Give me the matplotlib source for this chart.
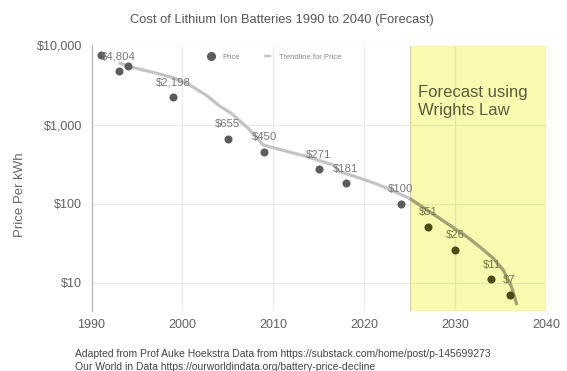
import matplotlib
matplotlib.use("Agg")
import matplotlib.pyplot as plt
from matplotlib.patches import Rectangle
from matplotlib.lines import Line2D

plt.rcParams['font.family'] = ['Liberation Sans', 'DejaVu Sans']

# ---- data ----
years = [1991, 1993, 1994, 1999, 2005, 2009, 2015, 2018, 2024, 2027, 2030, 2034, 2036]
prices = [7523, 4804, 5500, 2198, 655, 450, 271, 181, 100, 51, 26, 11, 7]
labels = [None, "$4,804", None, "$2,198", "$655", "$450", "$271", "$181", "$100", "$51", "$26", "$11", "$7"]

trend_years = [1993.0, 1994.2, 1997.2, 1999.0, 2000.6, 2002.6, 2004.1, 2005.4, 2007.2, 2008.9,
               2010.3, 2013.5, 2016.6, 2017.3, 2019.2, 2021.7, 2025.0, 2027.2, 2029.1, 2031.3,
               2032.7, 2034.2, 2035.3, 2036.2, 2036.8]
trend_values = [6057, 5389, 4446, 3902, 3255, 2362, 1715, 1378, 903, 550,
                497, 399, 307, 253, 216, 171, 116, 78.7, 56.2, 38,
                28.4, 20.2, 14.4, 8.85, 5.19]

forecast_start = 2025
x_ticks = [1990, 2000, 2010, 2020, 2030, 2040]
y_ticks = [10, 100, 1000, 10000]
y_ticklabels = ["$10", "$100", "$1,000", "$10,000"]

# ---- figure ----
W, H = 567, 371
fig = plt.figure(figsize=(W / 100, H / 100), dpi=100)
ax = fig.add_axes([91.5 / W, 1 - 311 / H, (546 - 91.5) / W, (311 - 45.5) / H])
ax.set_yscale('log')
ax.set_xlim(1990, 2040)
ax.set_ylim(4.36, 10000)

# grid
for t in x_ticks[1:-1]:
    ax.axvline(t, color='#ebebeb', lw=0.9, zorder=0)
for t in y_ticks:
    ax.axhline(t, color='#ebebeb', lw=0.9, zorder=0)

for s in ['top', 'right', 'bottom']:
    ax.spines[s].set_visible(False)
ax.spines['left'].set_color('#b5b5b5')
ax.spines['left'].set_linewidth(0.9)

ax.set_xticks(x_ticks)
ax.set_xticklabels([str(t) for t in x_ticks])
ax.set_yticks(y_ticks)
ax.set_yticklabels(y_ticklabels)
ax.minorticks_off()
ax.tick_params(axis='both', length=0, labelsize=9, labelcolor='#606060')
ax.tick_params(axis='x', pad=6)
ax.tick_params(axis='y', pad=7)

# forecast box
rect = Rectangle((forecast_start, 4.36), 2040 - forecast_start, 10000 - 4.36,
                 facecolor='#f9fab0', edgecolor='#d6d6a4', lw=0.9, zorder=1)
ax.add_patch(rect)
ax.plot([2030, 2030], [4.36, 10000], color='#e4e5a2', lw=0.9, zorder=1.1)
for t in [10, 100, 1000]:
    ax.plot([forecast_start, 2040], [t, t], color='#e6e7a4', lw=0.9, zorder=1.1)

# trendline (split at forecast start)
ty1 = [y for y in trend_years if y <= forecast_start]
tv1 = trend_values[:len(ty1)]
ty2 = [y for y in trend_years if y >= forecast_start]
tv2 = trend_values[len(trend_years) - len(ty2):]
ax.plot(ty1, tv1, color='#c4c4c4', lw=2.3, solid_capstyle='butt', zorder=2)
ax.plot(ty2, tv2, color='#a3a274', lw=2.3, solid_capstyle='butt', zorder=2)

# points
for yr, p, lab in zip(years, prices, labels):
    fc = '#4b4b16' if yr >= forecast_start else '#5c5c5c'
    tc = '#78784a' if yr >= forecast_start else '#777777'
    ax.plot([yr], [p], 'o', ms=5.8, color=fc, mec='none', zorder=3)
    if lab:
        ax.annotate(lab, (yr, p), xytext=(0, 10.5), textcoords='offset points',
                    ha='center', va='center', fontsize=8.2, color=tc, zorder=4)

ax.text(2025.9, 1945, "Forecast using\nWrights Law", ha='left', va='center',
        fontsize=12, color='#5a5a3c', linespacing=1.2, zorder=4)

# legend
handles = [Line2D([], [], marker='o', ls='none', color='#5c5c5c', ms=5.5),
           Line2D([], [], color='#c4c4c4', lw=1.6)]
ax.legend(handles, ["Price", "Trendline for Price"], loc='center left',
          bbox_to_anchor=(0.257, 0.957), ncol=2, frameon=False, fontsize=5.5,
          labelcolor='#888888', handlelength=0.7, handletextpad=1.1,
          columnspacing=3.3, borderaxespad=0, borderpad=0)

ax.set_ylabel("Price Per kWh", fontsize=9.5, color='#666666')
ax.yaxis.set_label_coords((26 - 91.5) / (546 - 91.5), (311 - 195) / 265.5)

fig.text(282 / W, 1 - 20 / H, "Cost of Lithium Ion Batteries 1990 to 2040 (Forecast)",
         ha='center', va='center', fontsize=9.25, color='#555555')
fig.text(75 / W, 1 - 354 / H,
         "Adapted from Prof Auke Hoekstra Data from https://substack.com/home/post/p-145699273",
         ha='left', va='center', fontsize=7.5, color='#444444')
fig.text(75 / W, 1 - 367 / H,
         "Our World in Data https://ourworldindata.org/battery-price-decline",
         ha='left', va='center', fontsize=7.5, color='#444444')

fig.savefig("out.png", dpi=100)
